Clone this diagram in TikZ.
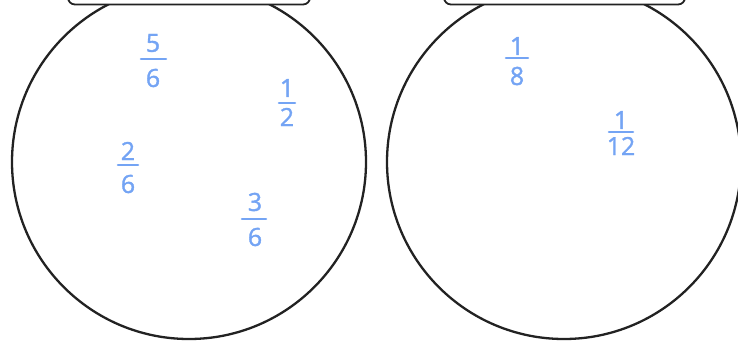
\documentclass[tikz,border=0pt]{standalone}
\usepackage{fontspec}
\setmainfont{Open Sans}
\newfontfamily\handfont[FakeBold=1.4]{Open Sans}
\definecolor{ink}{HTML}{222222}
\definecolor{pen}{HTML}{74A4F4}
\begin{document}
\begin{tikzpicture}[x=1pt,y=-1pt,
  ring/.style={circle,draw=ink,line width=2.3pt,minimum size=354pt,inner sep=0pt},
  lid/.style={draw=ink,fill=white,line width=1.8pt,rounded corners=7pt},
  digit/.style={text=pen,font=\handfont\fontsize{25}{25}\selectfont,inner sep=0pt},
  fbar/.style={draw=pen,line width=2.6pt,line cap=round}]
\useasboundingbox (0,0) rectangle (738,341);
\clip (0,0) rectangle (738,341);
% circles
\node[ring] (c1) at (189,162) {};
\node[ring] (c2) at (564,162) {};
% lids
\draw[lid] (68,-30) rectangle (310,4.5);
\draw[lid] (444,-30) rectangle (685,4.5);
% 5/6
\node[digit] (n1) at (153,43) {5};
\node[digit] (d1) at (153,78) {6};
\draw[fbar] (141,59) -- (166,59);
% 1/2
\node[digit] (n2) at (287,88) {1};
\node[digit] (d2) at (287,117) {2};
\draw[fbar] (279,103) -- (295,103);
% 2/6
\node[digit] (n3) at (128,151) {2};
\node[digit] (d3) at (128,184) {6};
\draw[fbar] (118,165) -- (138,165);
% 3/6
\node[digit] (n4) at (255,202) {3};
\node[digit] (d4) at (255,237) {6};
\draw[fbar] (242,219) -- (266,219);
% 1/8
\node[digit] (n5) at (517,46) {1};
\node[digit] (d5) at (517,76) {8};
\draw[fbar] (506,58) -- (528,58);
% 1/12
\node[digit] (n6) at (621,120) {1};
\node[digit] (d6) at (621,146) {12};
\draw[fbar] (609,132) -- (633,132);
\end{tikzpicture}
\end{document}
